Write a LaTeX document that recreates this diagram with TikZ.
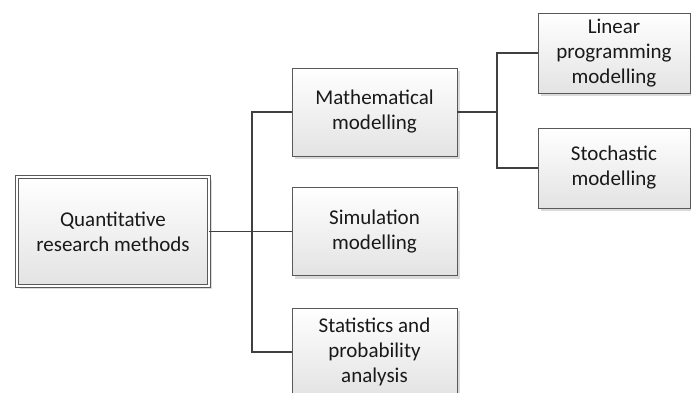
\documentclass[tikz,border=0pt]{standalone}
\usepackage{fontspec}
\setmainfont{Carlito}
\usetikzlibrary{shadows}
\tikzset{box/.style={draw=black!65, line width=0.8pt, top color=white, bottom color=black!11,
    drop shadow={shadow xshift=3pt, shadow yshift=-3pt, fill=black!14, opacity=1},
    align=center, text=black!90, font=\fontsize{21}{25}\selectfont, inner sep=0pt}}
\tikzset{lev1/.style={box, minimum width=165pt, minimum height=88pt}}
\tikzset{lev2/.style={box, minimum width=152pt, minimum height=80pt}}
\tikzset{root/.style={box, double=white, double distance=2.2pt, line width=0.9pt,
    minimum width=192pt, minimum height=109pt}}
\tikzset{conn/.style={draw=black!75, line width=1.3pt}}

\begin{document}
\begin{tikzpicture}[x=1pt, y=-1pt]
    \useasboundingbox (0,0) rectangle (691,392);
    \node[root] (Q) at (113,231.5) {Quantitative\\research methods};
    \node[lev1] (M) at (374.5,112) {Mathematical\\modelling};
    \node[lev1] (S) at (374.5,231.5) {Simulation\\modelling};
    \node[lev1] (P) at (374.5,352) {Statistics and\\probability\\analysis};
    \node[lev2] (L) at (614,53) {Linear\\programming\\modelling};
    \node[lev2] (St) at (614,168) {Stochastic\\modelling};
    \coordinate (J) at (252,231.5);
    \coordinate (K) at (497,112);
    \draw[conn] (Q) -- (J) (J) |- (M) (J) |- (S) (J) |- (P);
    \draw[conn] (M) -- (K) (K) |- (L) (K) |- (St);
  \end{tikzpicture}
\end{document}
